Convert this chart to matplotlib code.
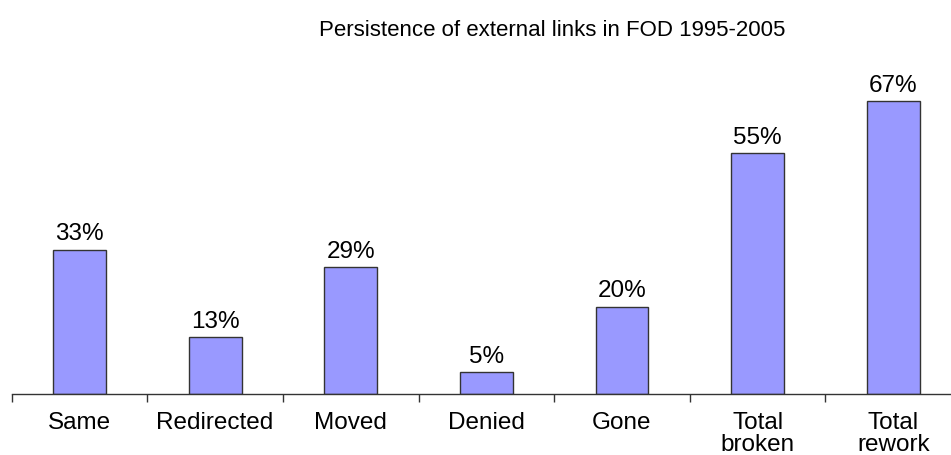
import matplotlib
matplotlib.use("Agg")
import matplotlib.pyplot as plt
import numpy as np

categories = ["Same", "Redirected", "Moved", "Denied", "Gone", "Total\nbroken", "Total\nrework"]
values = [33, 13, 29, 5, 20, 55, 67]
title = "Persistence of external links in FOD 1995-2005"

plt.rcParams['font.family'] = ['Liberation Sans', 'DejaVu Sans']

fig = plt.figure(figsize=(9.51, 4.55), dpi=100)
# axes run slightly past the right edge, as in the original
ax = fig.add_axes([11.7 / 951, (455 - 394) / 455, (961 - 11.7) / 951, (394 - 44) / 455])

x = np.arange(len(categories))
ax.bar(x, values, width=0.39, color="#9999FF", edgecolor="#333333", linewidth=1.0, zorder=2)

for xi, v in zip(x, values):
    ax.annotate(f"{v}%", (xi, v), xytext=(0, 3), textcoords="offset points",
                ha="center", va="bottom", fontsize=17.5)

ax.set_xlim(-0.5, len(categories) - 0.5)
ax.set_ylim(0, 80)

ax.set_xticks(x)
ax.set_xticklabels(categories, fontsize=17.5, linespacing=1.0, va="top")
ax.tick_params(axis="x", which="major", length=0, pad=13)
ax.set_xticks(np.arange(len(categories) + 1) - 0.5, minor=True)
ax.tick_params(axis="x", which="minor", length=6, width=1, color="#333333", direction="out")

ax.set_yticks([])
for side in ["left", "right", "top"]:
    ax.spines[side].set_visible(False)
ax.spines["bottom"].set_color("#333333")
ax.spines["bottom"].set_linewidth(1.0)

fig.text(552 / 951, 1 - 30 / 455, title, ha="center", va="center", fontsize=16)

fig.savefig("out.png", dpi=100)
